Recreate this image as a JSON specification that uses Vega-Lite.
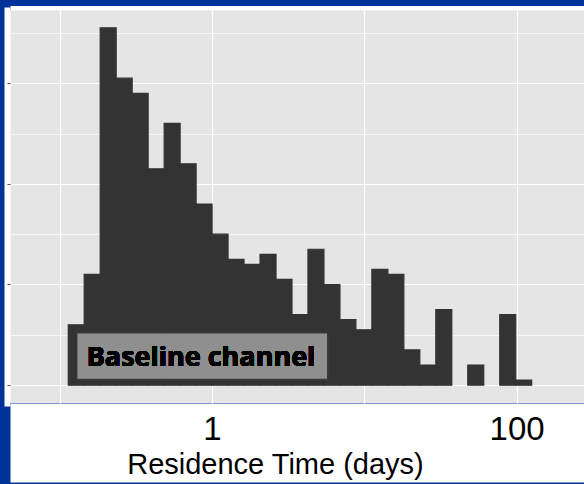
{
  "$schema": "https://vega.github.io/schema/vega-lite/v6.json",
  "width": 574,
  "height": 393,
  "autosize": {"type": "none"},
  "padding": {"left": 10, "top": 10, "right": 0, "bottom": 81},
  "background": "#003399",
  "config": {"view": {"fill": "#e5e5e5", "stroke": null}},
  "data": {
    "values": [
      {"bin_start": 0.1138, "bin_end": 0.1448, "count": 12},
      {"bin_start": 0.1448, "bin_end": 0.1844, "count": 22},
      {"bin_start": 0.1844, "bin_end": 0.2348, "count": 71},
      {"bin_start": 0.2348, "bin_end": 0.2990, "count": 61},
      {"bin_start": 0.2990, "bin_end": 0.3807, "count": 58},
      {"bin_start": 0.3807, "bin_end": 0.4850, "count": 43},
      {"bin_start": 0.4850, "bin_end": 0.6173, "count": 52},
      {"bin_start": 0.6173, "bin_end": 0.7862, "count": 44},
      {"bin_start": 0.7862, "bin_end": 1.001, "count": 36},
      {"bin_start": 1.001, "bin_end": 1.274, "count": 30},
      {"bin_start": 1.274, "bin_end": 1.623, "count": 25},
      {"bin_start": 1.623, "bin_end": 2.067, "count": 24},
      {"bin_start": 2.067, "bin_end": 2.632, "count": 26},
      {"bin_start": 2.632, "bin_end": 3.350, "count": 21},
      {"bin_start": 3.350, "bin_end": 4.266, "count": 14},
      {"bin_start": 4.266, "bin_end": 5.432, "count": 27},
      {"bin_start": 5.432, "bin_end": 6.918, "count": 20},
      {"bin_start": 6.918, "bin_end": 8.807, "count": 13},
      {"bin_start": 8.807, "bin_end": 11.21, "count": 11},
      {"bin_start": 11.21, "bin_end": 14.28, "count": 23},
      {"bin_start": 14.28, "bin_end": 18.18, "count": 22},
      {"bin_start": 18.18, "bin_end": 23.15, "count": 7},
      {"bin_start": 23.15, "bin_end": 29.47, "count": 4},
      {"bin_start": 29.47, "bin_end": 37.53, "count": 15},
      {"bin_start": 47.79, "bin_end": 60.84, "count": 4},
      {"bin_start": 77.48, "bin_end": 98.65, "count": 14},
      {"bin_start": 98.65, "bin_end": 125.6, "count": 1}
    ]
  },
  "resolve": {"axis": {"x": "independent", "y": "independent"}},
  "layer": [
    {
      "mark": {"type": "rect", "fill": "#333333", "stroke": "#333333", "strokeWidth": 1.2, "opacity": 1},
      "encoding": {
        "x": {
          "field": "bin_start",
          "type": "quantitative",
          "scale": {"type": "log", "domain": [0.04716, 277], "nice": false},
          "axis": {
            "orient": "bottom",
            "values": [0.1, 1, 10, 100],
            "labels": false,
            "title": null,
            "grid": true,
            "gridColor": "#ffffff",
            "gridWidth": 1.2,
            "ticks": false,
            "domain": true,
            "domainColor": "#ffffff",
            "domainWidth": 79,
            "domainCap": "butt",
            "offset": 39.5
          }
        },
        "x2": {"field": "bin_end"},
        "y": {
          "field": "count",
          "type": "quantitative",
          "scale": {"domain": [-3.55, 74.55], "nice": false, "zero": false},
          "axis": {
            "orient": "left",
            "values": [0, 10, 20, 30, 40, 50, 60, 70],
            "labels": false,
            "title": null,
            "ticks": false,
            "domain": true,
            "domainColor": "#ffffff",
            "domainWidth": 6,
            "domainCap": "square",
            "offset": 3,
            "grid": true,
            "gridColor": "#ffffff",
            "gridWidth": {"condition": {"test": "datum.value % 20 === 0", "value": 1.2}, "value": 0.7}
          }
        },
        "y2": {"datum": 0}
      }
    },
    {
      "mark": {"type": "rect", "fill": "#8f8f8f", "stroke": "#3a3a3a", "strokeWidth": 1.5},
      "encoding": {
        "x": {
          "datum": 0.1293,
          "type": "quantitative",
          "axis": {
            "orient": "bottom",
            "values": [1, 100],
            "labelExpr": "datum.value == 1 ? '1' : '100'",
            "grid": false,
            "ticks": false,
            "tickSize": 0,
            "domain": false,
            "labelFont": "Liberation Sans, Arial, sans-serif",
            "labelFontSize": 33,
            "labelColor": "#000000",
            "labelBaseline": "alphabetic",
            "labelPadding": 36,
            "labelFlush": false,
            "labelOverlap": false,
            "title": "Residence Time (days)",
            "titleFont": "Liberation Sans, Arial, sans-serif",
            "titleFontSize": 29,
            "titleFontWeight": "normal",
            "titleColor": "#000000",
            "titleBaseline": "alphabetic",
            "titleAlign": "center",
            "titleX": 265,
            "titleY": 70
          }
        },
        "x2": {"datum": 5.751},
        "y": {
          "datum": 1.11,
          "type": "quantitative",
          "axis": {
            "orient": "left",
            "values": [0, 20, 40, 60],
            "labels": false,
            "title": null,
            "domain": false,
            "grid": false,
            "ticks": true,
            "tickSize": 3,
            "tickWidth": 1,
            "tickColor": "#555555"
          }
        },
        "y2": {"datum": 10.39}
      }
    },
    {
      "mark": {
        "type": "text",
        "text": "Baseline channel",
        "font": "Open Sans",
        "fontWeight": "bold",
        "fontSize": 27,
        "color": "#000000",
        "align": "center",
        "baseline": "alphabetic"
      },
      "encoding": {
        "x": {
          "datum": 0.8467,
          "type": "quantitative",
          "axis": {
            "orient": "top",
            "labels": false,
            "title": null,
            "ticks": false,
            "grid": false,
            "domain": true,
            "domainColor": "#ffffff",
            "domainWidth": 4.5,
            "domainCap": "butt",
            "offset": 2.25
          }
        },
        "y": {"datum": 3.76, "type": "quantitative", "axis": null}
      }
    }
  ]
}
